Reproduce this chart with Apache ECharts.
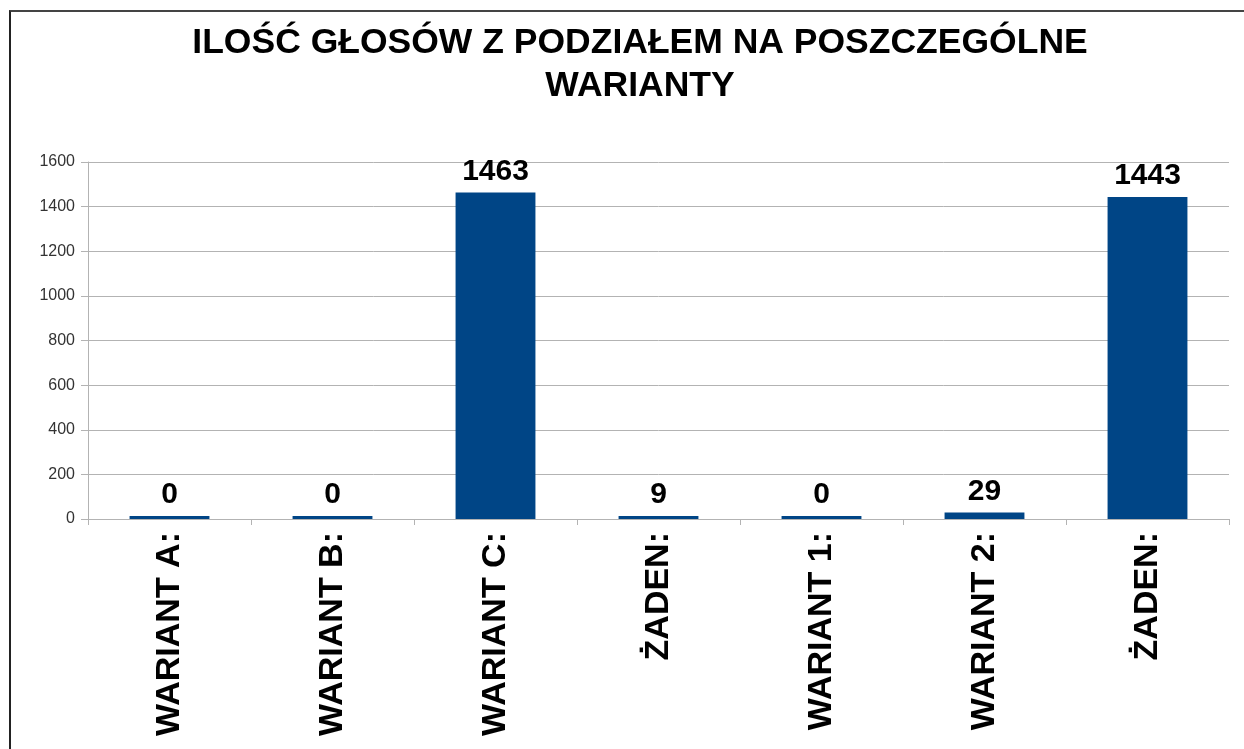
<!DOCTYPE html>
<html>
<head>
<meta charset="utf-8">
<script src="https://cdn.jsdelivr.net/npm/echarts@6/dist/echarts.min.js"></script>
<style>
  html, body { margin: 0; padding: 0; background: #fff; }
  #frame { position: absolute; left: 9px; top: 10px; width: 1300px; height: 800px;
           border-left: 2px solid #222; border-top: 2px solid #444; }
  #main { position: absolute; left: 0; top: 0; width: 1244px; height: 749px; }
</style>
</head>
<body>
<div id="frame"></div>
<div id="main"></div>
<script>
// dane z wykresu
var categories = ['WARIANT A:', 'WARIANT B:', 'WARIANT C:', 'ŻADEN:', 'WARIANT 1:', 'WARIANT 2:', 'ŻADEN:'];
var votes = [0, 0, 1463, 9, 0, 29, 1443];
var yTicks = { min: 0, max: 1600, interval: 200 };

var chart = echarts.init(document.getElementById('main'));
var font = '"Liberation Sans", Arial, sans-serif';
var gray = '#b3b3b3';

chart.setOption({
  animation: false,
  title: {
    text: 'ILOŚĆ GŁOSÓW Z PODZIAŁEM NA POSZCZEGÓLNE\nWARIANTY',
    left: 635,
    top: 17,
    textAlign: 'center',
    textStyle: { fontFamily: font, fontWeight: 'bold', fontSize: 35.5, lineHeight: 43, color: '#000' }
  },
  grid: { left: 88, right: 15, top: 162, bottom: 230, containLabel: false },
  xAxis: {
    type: 'category',
    data: categories,
    axisLine: { lineStyle: { color: gray } },
    axisTick: { show: true, length: 6, lineStyle: { color: gray } },
    axisLabel: { rotate: 90, margin: 13, interval: 0, fontFamily: font, fontWeight: 'bold', fontSize: 34, color: '#000' }
  },
  yAxis: {
    type: 'value',
    min: yTicks.min, max: yTicks.max, interval: yTicks.interval,
    axisLine: { show: true, lineStyle: { color: gray } },
    axisTick: { show: true, length: 7, lineStyle: { color: gray } },
    splitLine: { lineStyle: { color: gray } },
    axisLabel: { margin: 13, fontFamily: font, fontSize: 16, color: '#333', formatter: function (v) { return String(v); } }
  },
  series: [{
    type: 'bar',
    data: votes,
    barWidth: '49%',
    barMinHeight: 3,
    itemStyle: { color: '#004586' },
    label: { show: true, position: 'top', distance: 6, fontFamily: font, fontWeight: 'bold', fontSize: 30, color: '#000' }
  }]
});
</script>
</body>
</html>
